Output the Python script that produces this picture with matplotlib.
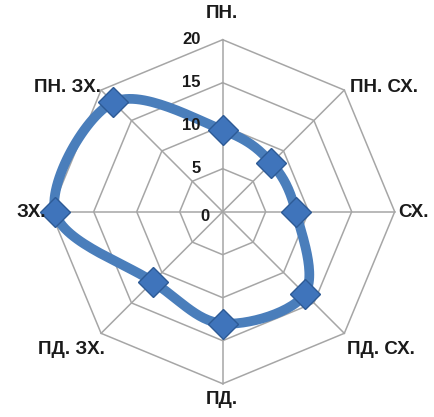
import numpy as np
import matplotlib
matplotlib.use("Agg")
import matplotlib.pyplot as plt

categories = ["ПН.", "ПН. СХ.", "СХ.", "ПД. СХ.", "ПД.", "ПД. ЗХ.", "ЗХ.", "ПН. ЗХ."]
values = [9.5, 8, 8.5, 13.5, 13, 11.5, 19.5, 18]
ring_levels = [5, 10, 15, 20]
tick_labels = ["0", "5", "10", "15", "20"]

plt.rcParams['font.family'] = ['Liberation Sans', 'DejaVu Sans']

W, H = 434, 417
fig = plt.figure(figsize=(W / 100, H / 100), dpi=100)
ax = fig.add_axes([0, 0, 1, 1])
scale = 8.6  # px per unit
cx, cy = 222.7, 211.7
ax.set_xlim(-cx / scale, (W - cx) / scale)
ax.set_ylim(-(H - cy) / scale, cy / scale)
ax.axis('off')

n = len(categories)
theta = np.arange(n) * 2 * np.pi / n

def xy(r, t):
    return r * np.sin(t), r * np.cos(t)

grid_color = '#a6a6a6'
for lv in ring_levels:
    tt = np.append(theta, theta[0])
    gx, gy = xy(lv, tt)
    ax.plot(gx, gy, color=grid_color, lw=1.1, zorder=1)
for t in theta:
    sx, sy = xy(np.array([0, ring_levels[-1]]), t)
    ax.plot(sx, sy, color=grid_color, lw=1.1, zorder=1)

# smooth closed curve (Catmull-Rom) through data points
vals = np.array(values, dtype=float)
px, py = xy(vals, theta)
P = np.column_stack([px, py])
curve = []
for i in range(n):
    p0, p1, p2, p3 = P[(i - 1) % n], P[i], P[(i + 1) % n], P[(i + 2) % n]
    for s in np.linspace(0, 1, 30, endpoint=False):
        s2, s3 = s * s, s * s * s
        pt = 0.5 * ((2 * p1) + (-p0 + p2) * s + (2 * p0 - 5 * p1 + 4 * p2 - p3) * s2
                    + (-p0 + 3 * p1 - 3 * p2 + p3) * s3)
        curve.append(pt)
curve.append(curve[0])
curve = np.array(curve)
ax.plot(curve[:, 0], curve[:, 1], color='#4a7ebb', lw=7, solid_capstyle='round',
        solid_joinstyle='round', zorder=2)
ax.plot(px, py, linestyle='none', marker='D', markersize=15, markerfacecolor='#3f74bb',
        markeredgecolor='#2d5a95', markeredgewidth=1.0, zorder=3)

label_pos = {
    "ПН.": (222, 14, 'center'),
    "ПН. СХ.": (350, 88, 'left'),
    "СХ.": (398, 212, 'left'),
    "ПД. СХ.": (347, 350, 'left'),
    "ПД.": (222, 400, 'center'),
    "ПД. ЗХ.": (105, 350, 'right'),
    "ЗХ.": (46, 212, 'right'),
    "ПН. ЗХ.": (101, 88, 'right'),
}
for cat in categories:
    lx, ly, ha = label_pos[cat]
    ax.text((lx - cx) / scale, (cy - ly) / scale, cat, ha=ha, va='center',
            fontsize=13.5, fontweight='bold', color='#1a1a1a')

for i, lab in enumerate(tick_labels):
    r = i * 5
    yoff = -0.6 if r == 0 else 0
    xoff = 1.0 if r == 0 else 0
    ax.text(-22 / scale + xoff, r + yoff, lab, ha='right', va='center',
            fontsize=12, fontweight='bold', color='#1a1a1a')

fig.savefig('out.png', dpi=100)
